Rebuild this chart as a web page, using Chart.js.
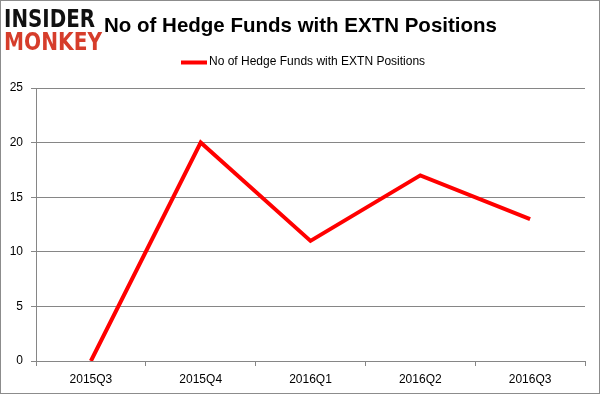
<!DOCTYPE html>
<html>
<head>
<meta charset="utf-8">
<script src="https://cdn.jsdelivr.net/npm/chart.js@4.4.1/dist/chart.umd.min.js"></script>
<style>
  html, body { margin: 0; padding: 0; background: #fff; }
  #wrap { width: 601px; height: 395px; position: relative; }
</style>
</head>
<body>
<div id="wrap"><canvas id="c" width="601" height="395"></canvas></div>
<script>
const categories = ['2015Q3', '2015Q4', '2016Q1', '2016Q2', '2016Q3'];
const hedgeFundCounts = [0, 20, 11, 17, 13];
const yTickValues = [0, 5, 10, 15, 20, 25];
const seriesLabel = 'No of Hedge Funds with EXTN Positions';
const chartTitle = 'No of Hedge Funds with EXTN Positions';

const decorPlugin = {
  id: 'decor',
  beforeDraw(chart) {
    const ctx = chart.ctx;
    ctx.save();
    ctx.fillStyle = '#ffffff';
    ctx.fillRect(0, 0, chart.width, chart.height);
    ctx.restore();
  },
  afterDraw(chart) {
    const ctx = chart.ctx;
    ctx.save();
    // outer border
    ctx.strokeStyle = '#8c8c8c';
    ctx.lineWidth = 1;
    ctx.strokeRect(0.5, 0.5, 599, 393);

    // logo
    function fitText(txt, x, baseline, width, color) {
      ctx.font = 'bold 25px "DejaVu Sans"';
      const w = ctx.measureText(txt).width;
      ctx.save();
      ctx.translate(x, baseline);
      ctx.scale(width / w, 1);
      ctx.fillStyle = color;
      ctx.textBaseline = 'alphabetic';
      ctx.textAlign = 'left';
      ctx.fillText(txt, 0, 0);
      ctx.restore();
    }
    fitText('INSIDER', 4, 27, 91, '#111111');
    fitText('MONKEY', 4, 50, 98, '#d63d2b');

    // legend
    const ds = chart.data.datasets[0];
    ctx.strokeStyle = ds.borderColor;
    ctx.lineWidth = 4;
    ctx.beginPath();
    ctx.moveTo(181, 62.5);
    ctx.lineTo(207, 62.5);
    ctx.stroke();
    ctx.fillStyle = '#000';
    ctx.font = '12px "Liberation Sans"';
    ctx.textBaseline = 'middle';
    ctx.textAlign = 'left';
    ctx.fillText(ds.label, 209, 62);
    ctx.restore();
  }
};

new Chart(document.getElementById('c'), {
  type: 'line',
  data: {
    labels: categories,
    datasets: [{
      label: seriesLabel,
      data: hedgeFundCounts,
      yAxisID: 'y',
      borderColor: '#ff0000',
      backgroundColor: '#ff0000',
      borderWidth: 4,
      pointRadius: 0,
      pointHoverRadius: 0,
      tension: 0,
      fill: false
    }]
  },
  options: {
    responsive: false,
    animation: false,
    devicePixelRatio: 1,
    layout: { padding: 0 },
    plugins: {
      legend: { display: false },
      tooltip: { enabled: false },
      title: {
        display: true,
        text: chartTitle,
        color: '#000',
        font: { family: '"Liberation Sans"', size: 20.5, weight: 'bold' },
        padding: { top: 14, bottom: 49.4 }
      }
    },
    scales: {
      x: {
        type: 'category',
        offset: true,
        grid: { offset: true, drawOnChartArea: false, drawTicks: true, tickLength: 5, color: '#868686' },
        border: { color: '#868686', width: 1 },
        ticks: { color: '#000', font: { family: '"Liberation Sans"', size: 12 }, padding: 6, maxRotation: 0 },
        afterFit: s => { s.height = 34; }
      },
      y: {
        min: 0,
        max: 25,
        afterBuildTicks: s => { s.ticks = yTickValues.map(v => ({ value: v })); },
        grid: { color: '#868686', tickLength: 5, drawTicks: true },
        border: { color: '#868686', width: 1 },
        ticks: { color: '#000', font: { family: '"Liberation Sans"', size: 12 }, padding: 8 },
        afterFit: s => { s.width = 36; }
      },
      yRight: {
        type: 'linear',
        position: 'right',
        display: true,
        grid: { display: false, drawTicks: false },
        border: { display: false },
        ticks: { display: false },
        afterFit: s => { s.width = 16; }
      }
    }
  },
  plugins: [decorPlugin]
});
</script>
</body>
</html>
